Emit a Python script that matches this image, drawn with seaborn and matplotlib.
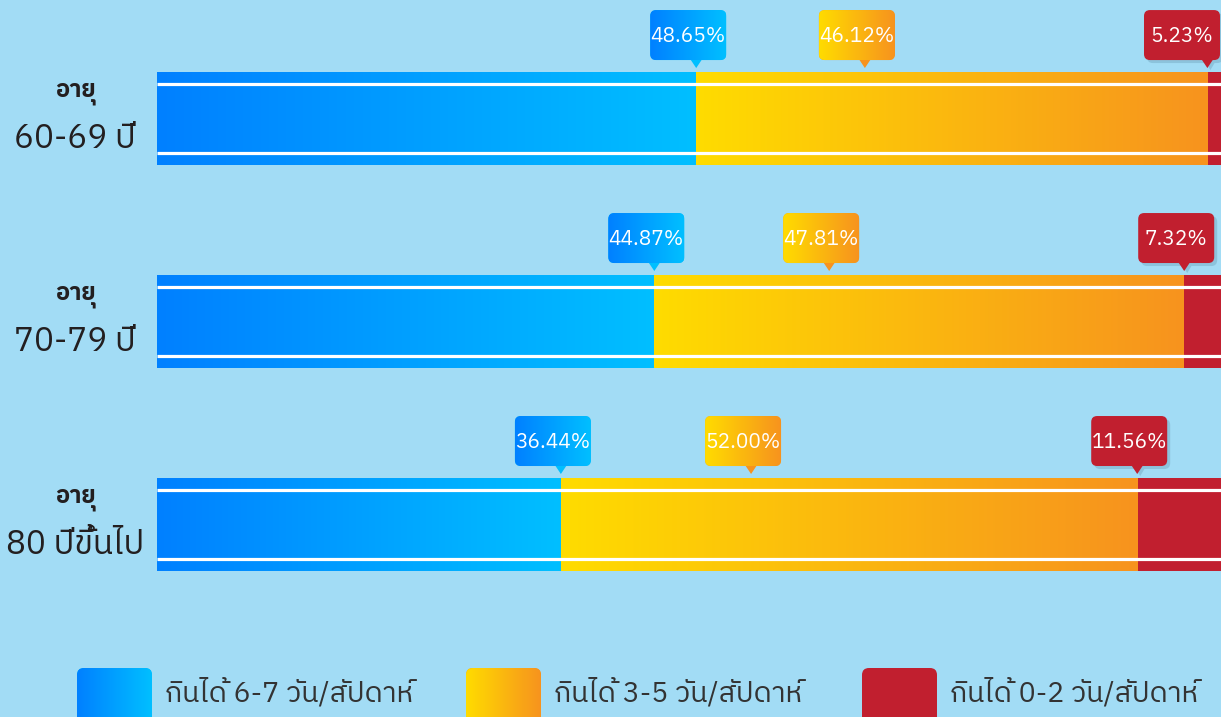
import numpy as np
import pandas as pd
import seaborn as sns
import matplotlib.pyplot as plt
from matplotlib import font_manager
from matplotlib.ft2font import FT2Font
from matplotlib.colors import LinearSegmentedColormap
from matplotlib.patches import FancyBboxPatch, Polygon

# data
ages = ['60-69 ปี', '70-79 ปี', '80 ปีขึ้นไป']
age_prefix = 'อายุ'
series = ['กินได้ 6-7 วัน/สัปดาห์', 'กินได้ 3-5 วัน/สัปดาห์', 'กินได้ 0-2 วัน/สัปดาห์']
days_6_7 = [48.65, 44.87, 36.44]
days_3_5 = [46.12, 47.81, 52.00]
days_0_2 = [5.23, 7.32, 11.56]

# find a font that can draw Thai
thai_fonts = []
for f in font_manager.fontManager.ttflist:
    try:
        if 0x0E01 in FT2Font(f.fname).get_charmap():
            thai_fonts.append(f.name)
    except Exception:
        pass
pref = [n for n in thai_fonts if 'Sans' in n] + thai_fonts

sns.set_theme(style='white')
plt.rcParams['font.family'] = ([pref[0]] if pref else []) + ['DejaVu Sans']

bg = '#a2dcf5'
blue_c = ('#0080ff', '#00bfff')
yellow_c = ('#ffdc00', '#f7931e')
red_c = '#c11f2f'

df = pd.DataFrame({'age': ages, 'a': days_6_7, 'b': days_3_5, 'c': days_0_2})
df['cum1'] = df['a']
df['cum2'] = df['a'] + df['b']
df['cum3'] = df['cum2'] + df['c']

W, H = 1221, 717
fig = plt.figure(figsize=(W / 100, H / 100), dpi=100, facecolor=bg)
ax = fig.add_axes([157 / W, 1 - 640 / H, 1 - 157 / W, 640 / H])
ax.set_facecolor(bg)

bw = 0.458
for col, c in [('cum3', red_c), ('cum2', yellow_c[1]), ('cum1', blue_c[1])]:
    sns.barplot(data=df, y='age', x=col, orient='h', color=c, saturation=1,
                width=bw, linewidth=0, ax=ax)

grad = np.linspace(0, 1, 256).reshape(1, -1)
cm_blue = LinearSegmentedColormap.from_list('b', blue_c)
cm_yellow = LinearSegmentedColormap.from_list('y', yellow_c)
for i, row in df.iterrows():
    ax.imshow(grad, cmap=cm_blue, aspect='auto', zorder=1.5, interpolation='bilinear',
              extent=[0, row['cum1'], i + bw / 2, i - bw / 2])
    ax.imshow(grad, cmap=cm_yellow, aspect='auto', zorder=1.5, interpolation='bilinear',
              extent=[row['cum1'], row['cum2'], i + bw / 2, i - bw / 2])
    ax.hlines([i - 0.168, i + 0.168], 0, row['cum3'], color='white', lw=2.3, zorder=3)

ax.set_xlim(0, 96)
ax.set_ylim(2.569, -0.584)
ax.axis('off')

# overlay in pixel coordinates for callouts, labels, legend
ov = fig.add_axes([0, 0, 1, 1], zorder=5)
ov.set_xlim(0, W)
ov.set_ylim(H, 0)
ov.axis('off')
ov.patch.set_alpha(0)


def to_px(x, y):
    d = ax.transData.transform((x, y))
    return d[0], H - d[1]


def rbox(x0, y0, w, h, fill, r=6, shadow=False):
    if shadow:
        ov.add_patch(FancyBboxPatch((x0 + 3, y0 + 3), w, h, boxstyle=f'round,pad=0,rounding_size={r}',
                                    fc='#8cc3dc', ec='none', zorder=6))
    p = FancyBboxPatch((x0, y0), w, h, boxstyle=f'round,pad=0,rounding_size={r}',
                       fc=fill if isinstance(fill, str) else fill[1], ec='none', zorder=7)
    ov.add_patch(p)
    if not isinstance(fill, str):
        cm = LinearSegmentedColormap.from_list('g', fill)
        im = ov.imshow(grad, cmap=cm, aspect='auto', extent=[x0, x0 + w, y0 + h, y0],
                       zorder=7.5, interpolation='bilinear')
        im.set_clip_path(p)
    return p


def callout(px, bar_top, text, fill):
    bw_px, bh_px = 76, 50
    x0 = min(px - 8 - bw_px / 2, W - bw_px - 1)
    y0 = bar_top - 62
    solid = isinstance(fill, str)
    if solid:
        ov.add_patch(Polygon([[px - 3, y0 + bh_px], [px + 9, y0 + bh_px], [px + 3, y0 + bh_px + 10]],
                             closed=True, fc='#8cc3dc', ec='none', zorder=6))
    rbox(x0, y0, bw_px, bh_px, fill, shadow=solid)
    tri_c = fill if solid else (fill[0] if px - x0 < bw_px / 2 else fill[1])
    ov.add_patch(Polygon([[px - 6, y0 + bh_px - 1], [px + 6, y0 + bh_px - 1], [px, y0 + bh_px + 8]],
                         closed=True, fc=tri_c, ec='none', zorder=7))
    ov.text(x0 + bw_px / 2, y0 + bh_px / 2 + 1, text, color='white', fontsize=15,
            ha='center', va='center', zorder=9)


for i, row in df.iterrows():
    _, top = to_px(0, i - bw / 2)
    _, cy = to_px(0, i)
    px1, _ = to_px(row['cum1'], i)
    px2, _ = to_px(row['cum1'] + 0.33 * row['b'], i)
    px3, _ = to_px(row['cum2'], i)
    callout(px1, top, f"{row['a']:.2f}%", blue_c)
    callout(px2, top, f"{row['b']:.2f}%", yellow_c)
    callout(px3, top, f"{row['c']:.2f}%", red_c)
    ov.text(75, cy - 25, age_prefix, fontsize=17, fontweight='bold', color='#231f20',
            ha='center', va='center')
    ov.text(75, cy + 20, row['age'], fontsize=24, color='#231f20', ha='center', va='center')

# legend
leg_box_x = [77, 466, 862]
leg_fill = [blue_c, yellow_c, red_c]
for name, bx, fill in zip(series, leg_box_x, leg_fill):
    rbox(bx, 668, 75, 60, fill, r=7)
    ov.text(bx + 88, 693, name, fontsize=20.5, color='#333333', ha='left', va='center')

fig.savefig('out.png', dpi=100, facecolor=bg)
